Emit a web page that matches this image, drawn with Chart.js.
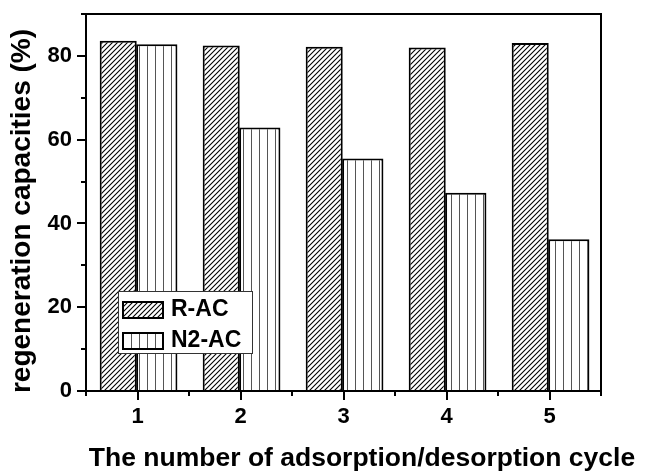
<!DOCTYPE html>
<html>
<head>
<meta charset="utf-8">
<script src="https://cdn.jsdelivr.net/npm/chart.js@4.4.0/dist/chart.umd.min.js"></script>
<style>
  body { margin: 0; background: #fff; }
  #wrap { width: 647px; height: 471px; }
</style>
</head>
<body>
<div id="wrap"><canvas id="cycleChart" width="647" height="471"></canvas></div>
<script>
// data
const cycles = ['1', '2', '3', '4', '5'];
const racValues = [83.6, 82.5, 82.2, 82.0, 83.1];
const n2acValues = [82.8, 62.9, 55.5, 47.3, 36.2];
const yTickValues = [0, 20, 40, 60, 80];
const yMinorStep = 10;
const yMax = 90;
const xTitle = 'The number of adsorption/desorption cycle';
const yTitle = 'regeneration capacities (%)';

const FONT = '"Liberation Sans", Arial, sans-serif';

// fill patterns
function makeHatch() {
    const c = document.createElement('canvas');
    c.width = 5; c.height = 5;
    const g = c.getContext('2d');
    g.fillStyle = '#fff';
    g.fillRect(0, 0, 5, 5);
    g.strokeStyle = '#000';
    g.lineWidth = 1.1;
    g.beginPath();
    g.moveTo(-1, 6); g.lineTo(6, -1);
    g.moveTo(-1, 1); g.lineTo(1, -1);
    g.moveTo(4, 6); g.lineTo(6, 4);
    g.stroke();
    return g.createPattern(c, 'repeat');
}

function makeStripes() {
    const c = document.createElement('canvas');
    c.width = 8; c.height = 8;
    const g = c.getContext('2d');
    g.fillStyle = '#fff';
    g.fillRect(0, 0, 8, 8);
    g.fillStyle = '#555';
    g.fillRect(3, 0, 1, 8);
    return g.createPattern(c, 'repeat');
}

// frame, minor ticks, legend and axis titles
const framePlugin = {
    id: 'frame',
    afterDatasetsDraw(chart) {
        const ctx = chart.ctx;
        const a = chart.chartArea;
        const xs = chart.scales.x;
        const ys = chart.scales.y;
        ctx.save();
        ctx.strokeStyle = '#000';
        ctx.lineWidth = 2;
        ctx.strokeRect(a.left, a.top, a.right - a.left, a.bottom - a.top);

        ctx.beginPath();
        for (let v = 0; v <= yMax; v += yMinorStep) {
            const y = Math.round(ys.getPixelForValue(v));
            const len = yTickValues.includes(v) ? 9 : 5;
            ctx.moveTo(a.left - len, y);
            ctx.lineTo(a.left, y);
        }
        for (let i = 0; i < cycles.length; i++) {
            const x = Math.round(xs.getPixelForValue(i));
            ctx.moveTo(x, a.bottom);
            ctx.lineTo(x, a.bottom + 9);
        }
        for (let i = -0.5; i < cycles.length; i += 1) {
            const x = Math.round(xs.getPixelForValue(i));
            ctx.moveTo(x, a.bottom);
            ctx.lineTo(x, a.bottom + 5);
        }
        ctx.stroke();

        // legend
        ctx.fillStyle = '#fff';
        ctx.fillRect(118, 291, 134, 62);
        ctx.strokeStyle = '#333';
        ctx.lineWidth = 1;
        ctx.strokeRect(118.5, 291.5, 134, 62);
        chart.data.datasets.forEach((ds, i) => {
            const sy = 302 + i * 31;
            ctx.fillStyle = ds.backgroundColor;
            ctx.fillRect(123, sy, 40, 16);
            ctx.strokeStyle = '#000';
            ctx.lineWidth = 2;
            ctx.strokeRect(123, sy, 40, 16);
            ctx.fillStyle = '#000';
            ctx.font = 'bold 23px ' + FONT;
            ctx.textBaseline = 'middle';
            ctx.textAlign = 'left';
            ctx.fillText(ds.label, 171, sy + 8);
        });

        // axis titles
        ctx.fillStyle = '#000';
        ctx.font = 'bold 26.5px ' + FONT;
        ctx.textAlign = 'center';
        ctx.textBaseline = 'alphabetic';
        ctx.fillText(xTitle, 362, 466);

        ctx.save();
        ctx.translate(30, 211);
        ctx.rotate(-Math.PI / 2);
        ctx.font = 'bold 28px ' + FONT;
        ctx.fillText(yTitle, 0, 0);
        ctx.restore();

        ctx.restore();
    }
};

const ctx = document.getElementById('cycleChart').getContext('2d');

new Chart(ctx, {
    type: 'bar',
    data: {
        labels: cycles,
        datasets: [{
            label: 'R-AC',
            data: racValues,
            backgroundColor: makeHatch(),
            borderColor: '#000',
            borderWidth: 2,
            barPercentage: 0.96
        }, {
            label: 'N2-AC',
            data: n2acValues,
            backgroundColor: makeStripes(),
            borderColor: '#000',
            borderWidth: 2,
            barPercentage: 1.07
        }]
    },
    options: {
        responsive: false,
        animation: false,
        layout: { padding: { left: 0, top: 14, right: 46, bottom: 0 } },
        datasets: {
            bar: { categoryPercentage: 0.749 }
        },
        plugins: {
            legend: { display: false },
            tooltip: { enabled: false }
        },
        scales: {
            x: {
                grid: { display: false },
                border: { display: false },
                ticks: {
                    color: '#000',
                    padding: 5,
                    font: { family: FONT, size: 22, weight: 'bold' }
                },
                afterFit(scale) {
                    scale.height = 80;
                    scale.paddingLeft = 0;
                    scale.paddingRight = 0;
                }
            },
            y: {
                min: 0,
                max: yMax,
                grid: { display: false },
                border: { display: false },
                afterBuildTicks(scale) {
                    scale.ticks = yTickValues.map(v => ({ value: v }));
                },
                ticks: {
                    color: '#000',
                    padding: 6,
                    font: { family: FONT, size: 22, weight: 'bold' }
                },
                afterFit(scale) {
                    scale.width = 86;
                    scale.paddingTop = 0;
                    scale.paddingBottom = 0;
                }
            }
        }
    },
    plugins: [framePlugin]
});
</script>
</body>
</html>
